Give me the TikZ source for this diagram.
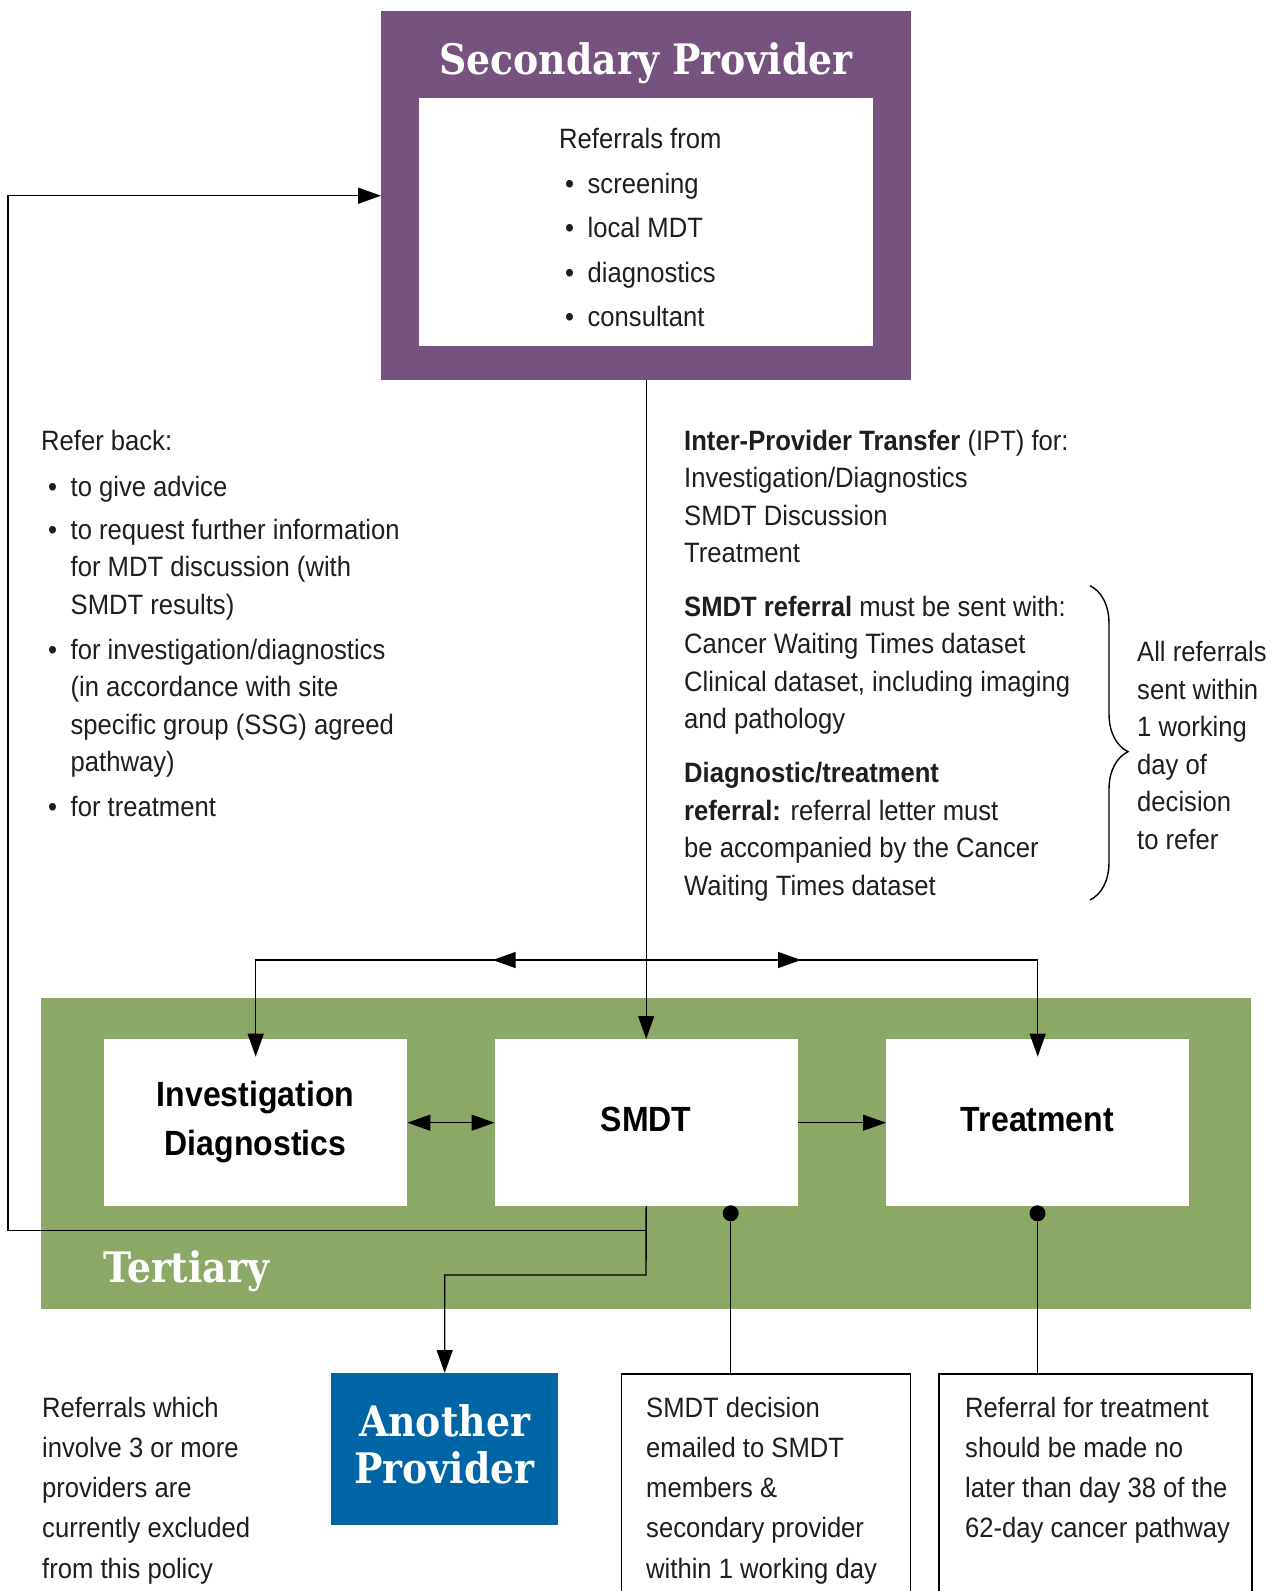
\documentclass[tikz,border=0pt]{standalone}
\usepackage{fontspec}
\setmainfont{Liberation Sans}[FakeStretch=0.915]
\newfontfamily\slabfont{DejaVu Serif}[FakeStretch=0.9]
\usetikzlibrary{arrows.meta,decorations.pathreplacing,calc}
\definecolor{secpurple}{RGB}{118,83,126}
\definecolor{tertgreen}{RGB}{139,168,103}
\definecolor{anblue}{RGB}{0,101,165}
\definecolor{ink}{RGB}{30,30,30}
\begin{document}
\begin{tikzpicture}[x=1pt,y=-1pt,
  body/.style={font=\fontsize{28}{37.5}\selectfont, text=ink, inner sep=0, anchor=base west},
  lowbody/.style={font=\fontsize{28}{40.3}\selectfont, text=ink, inner sep=0, anchor=base west},
  head/.style={font=\bfseries\fontsize{35}{42}\selectfont, text=black, inner sep=0, anchor=base},
  slab/.style={font=\slabfont\bfseries\fontsize{42}{47}\selectfont, text=white, inner sep=0},
  plainbox/.style={fill=white, inner sep=0, anchor=north west, minimum width=303, minimum height=167},
  openbox/.style={draw=black, line width=1.5pt, fill=white, inner sep=0, anchor=north west, minimum height=300},
  conn/.style={line width=1.4pt, draw=black},
  arr/.style={conn, -{Triangle[length=23pt,width=16pt]}},
  dbl/.style={conn, {Triangle[length=23pt,width=16pt]}-{Triangle[length=23pt,width=16pt]}},
  dot/.style={circle, fill=black, minimum size=16, inner sep=0}
]
\useasboundingbox (0,0) rectangle (1272,1591);
\clip (0,0) rectangle (1272,1591);

% Secondary provider
\node[fill=secpurple, minimum width=530, minimum height=369, inner sep=0, anchor=north west] (sec) at (381,11) {};
\node[fill=white, minimum width=454, minimum height=248, inner sep=0, anchor=north west] (secin) at (419,98) {};
\node[slab, anchor=base] (sectitle) at (646,74) {Secondary Provider};
\node[body] (reflist) at (559,148) {\begin{tabular}[t]{@{}l@{\hspace{13.5pt}}l@{}}
\multicolumn{2}{@{}l@{}}{Referrals from}\\[7.5pt]
\hspace{6pt}\textbullet & screening\\[7pt]
\hspace{6pt}\textbullet & local MDT\\[7pt]
\hspace{6pt}\textbullet & diagnostics\\[7pt]
\hspace{6pt}\textbullet & consultant
\end{tabular}};

% Tertiary
\node[fill=tertgreen, minimum width=1210.4, minimum height=311, inner sep=0, anchor=north west] (tert) at (40.6,998) {};
\node[slab, anchor=base west] (tertlabel) at (103,1282) {Tertiary};
\node[plainbox] (inv) at (104,1039) {};
\node[plainbox] (smdt) at (494.5,1039) {};
\node[plainbox] (treat) at (886,1039) {};
\node[head] (invt1) at (255.5,1106.7) {Investigation};
\node[head] (invt2) at (255.5,1155) {Diagnostics};
\node[head] (smdtt) at (646,1131.7) {SMDT};
\node[head] (treatt) at (1037.5,1131.7) {Treatment};

% Bottom boxes
\node[fill=anblue, minimum width=227, minimum height=152, inner sep=0, anchor=north west] (another) at (331,1373) {};
\node[slab, anchor=base] (an1) at (444.5,1436) {Another};
\node[slab, anchor=base] (an2) at (444.5,1483) {Provider};
\node[openbox, minimum width=289] (box3) at (620.6,1373) {};
\node[openbox, minimum width=313] (box4) at (938,1373) {};

% Texts
\node[body] (referback) at (41,450.7) {\begin{tabular}[t]{@{}l@{\hspace{13.5pt}}l@{}}
\multicolumn{2}{@{}l@{}}{Refer back:}\\[8.5pt]
\hspace{7pt}\textbullet & to give advice\\[5pt]
\hspace{7pt}\textbullet & to request further information\\
 & for MDT discussion (with\\
 & SMDT results)\\[7.5pt]
\hspace{7pt}\textbullet & for investigation/diagnostics\\
 & (in accordance with site\\
 & specific group (SSG) agreed\\
 & pathway)\\[7.5pt]
\hspace{7pt}\textbullet & for treatment
\end{tabular}};

\node[body] (ipt) at (684,450) {\begin{tabular}[t]{@{}l@{}}
\textbf{Inter-Provider Transfer} (IPT) for:\\
Investigation/Diagnostics\\
SMDT Discussion\\
Treatment\\[16pt]
\textbf{SMDT referral} must be sent with:\\
Cancer Waiting Times dataset\\
Clinical dataset, including imaging\\
and pathology\\[16.5pt]
\textbf{Diagnostic/treatment}\\
\textbf{referral:} referral letter must\\
be accompanied by the Cancer\\
Waiting Times dataset
\end{tabular}};

\node[body] (allref) at (1137,661.7) {\begin{tabular}[t]{@{}l@{}}
All referrals\\ sent within\\ 1 working\\ day of\\ decision\\ to refer
\end{tabular}};

\node[lowbody] (excluded) at (42,1417) {\begin{tabular}[t]{@{}l@{}}
Referrals which\\ involve 3 or more\\ providers are\\ currently excluded\\ from this policy
\end{tabular}};
\node[lowbody] (decision) at (646,1417) {\begin{tabular}[t]{@{}l@{}}
SMDT decision\\ emailed to SMDT\\ members \&\\ secondary provider\\ within 1 working day
\end{tabular}};
\node[lowbody] (day38) at (965,1417) {\begin{tabular}[t]{@{}l@{}}
Referral for treatment\\ should be made no\\ later than day 38 of the\\ 62-day cancer pathway
\end{tabular}};

% Brace
\draw[line width=1.4pt, decorate, decoration={brace, amplitude=38pt, aspect=0.528}] (1090,585.7) -- (1090,900);

% Connectors
\coordinate (split) at (646,960);
\coordinate (rb) at (646,1230.7);
\draw[arr] (sec.south) -- (smdt.north);
\draw[arr] (split) -| ($(inv.north)+(0,17.7)$);
\draw[arr] (split) -| ($(treat.north)+(0,17.7)$);
\draw[arr] (split) -- (492.7,960);
\draw[arr] (split) -- (801,960);
\draw[dbl] (inv.east) -- (smdt.west);
\draw[arr] (smdt.east) -- (treat.west);
\draw[arr] (smdt.south) -- (646,1275) -| (another.north);
\draw[arr] (rb) -- (8,1230.7) |- (sec.west);
\node[dot] (dot1) at (730.7,1213.3) {};
\node[dot] (dot2) at (1037.5,1213.3) {};
\draw[conn] (dot1) -- (dot1 |- box3.north);
\draw[conn] (dot2) -- (dot2 |- box4.north);
\end{tikzpicture}
\end{document}
